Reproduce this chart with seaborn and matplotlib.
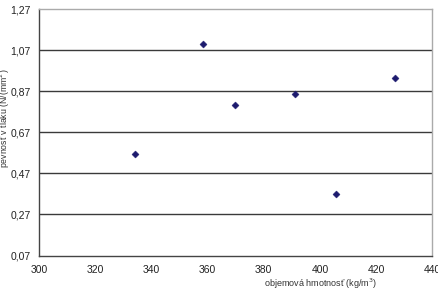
import matplotlib
matplotlib.use("Agg")
import matplotlib.pyplot as plt
import seaborn as sns
import pandas as pd
from matplotlib.ticker import FixedLocator

density = [334.1, 358.3, 369.7, 391.3, 405.8, 426.7]
strength = [0.563, 1.101, 0.803, 0.855, 0.371, 0.937]
y_ticks = [0.07, 0.27, 0.47, 0.67, 0.87, 1.07, 1.27]
x_ticks = [300, 320, 340, 360, 380, 400, 420, 440]

df = pd.DataFrame({"x": density, "y": strength})

sns.set_style("white")
plt.rcParams['font.family'] = ['Liberation Sans', 'DejaVu Sans']

fig = plt.figure(figsize=(4.38, 2.92), dpi=100)
ax = fig.add_axes([39/438, 1 - 255.5/292, (432.3-39)/438, (255.5-9.3)/292])

sns.scatterplot(data=df, x="x", y="y", ax=ax, marker="D", s=13,
                color="#1c1a6e", edgecolor="#1c1a6e", linewidth=0.3, zorder=5)

ax.set_xlim(300, 440)
ax.set_ylim(0.07, 1.27)
ax.xaxis.set_major_locator(FixedLocator(x_ticks))
ax.yaxis.set_major_locator(FixedLocator(y_ticks))
ax.set_xticklabels([str(v) for v in x_ticks])
ax.set_yticklabels([f"{v:.2f}".replace(".", ",") for v in y_ticks])

for v in y_ticks[1:-1]:
    ax.axhline(v, color="#3a3a3a", lw=1.0, zorder=1)

ax.tick_params(axis="both", which="major", direction="out", length=3, width=0.8,
               labelsize=7.5, colors="#333333", labelcolor="#222222")
ax.tick_params(axis="x", pad=4)
ax.tick_params(axis="y", pad=3)

for s in ["left", "bottom"]:
    ax.spines[s].set_color("#444444")
    ax.spines[s].set_linewidth(1.0)
for s in ["top", "right"]:
    ax.spines[s].set_color("#aaaaaa")
    ax.spines[s].set_linewidth(1.0)
    ax.spines[s].set_visible(True)

ax.set_xlabel("")
ax.set_ylabel("")
fig.text(321/438, 1 - 283.5/292, "objemová hmotnosť (kg/m$^3$)", ha="center", va="center",
         fontsize=6.5, color="#333333")
fig.text(5/438, 1 - 118/292, "pevnosť v tlaku (N/(mm$^2$)", ha="center", va="center",
         rotation=90, fontsize=6.3, color="#333333")

fig.savefig("out.png", dpi=100)
